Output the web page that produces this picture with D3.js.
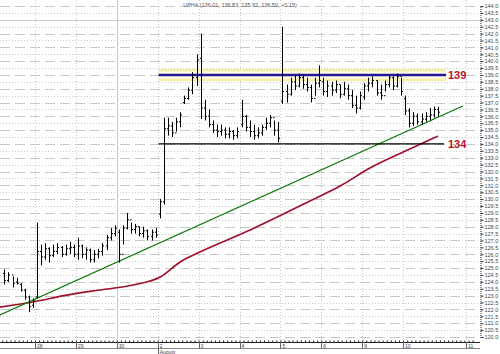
<!DOCTYPE html>
<html>
<head>
<meta charset="utf-8">
<script src="https://cdn.jsdelivr.net/npm/d3@7"></script>
<style>
  body { margin: 0; background: #fff; }
  svg { display: block; font-family: "Liberation Sans", Arial, sans-serif; }
</style>
</head>
<body>
<div id="chart"></div>
<script>
const WIDTH = 500
const HEIGHT = 354

const title = "UPHA (136.01, 136.83, 135.92, 136.50, +0.15)"

// one bar per slot, 10 slots per session, first bar sits in slot -8 (the 27th)
const firstSlot = -8
const highs = [
  124.9, 124.7, 124.4, 124.3, 123.9, 123.5, 123.0, 122.8,
  128.3, 126.7, 126.8, 126.5, 126.7, 126.8, 126.6, 126.7, 126.9, 126.7,
  127.2, 126.7, 126.5, 126.4, 126.3, 126.4, 126.8, 127.4, 127.9, 128.1,
  127.8, 128.1, 129.0, 128.3, 128.2, 128.0, 128.0, 127.8, 127.8, 127.9,
  130.0, 135.9, 135.9, 135.6, 135.9, 136.3, 137.5, 138.1, 139.2, 140.5,
  142.0, 137.2, 136.5, 135.7, 135.4, 135.4, 135.2, 135.2, 135.0, 135.2,
  137.2, 136.1, 135.7, 135.4, 135.2, 135.4, 135.9, 136.1, 135.7, 135.6,
  142.5, 138.3, 138.8, 139.0, 139.1, 139.0, 138.8, 138.3, 138.8, 139.7,
  138.8, 138.6, 138.5, 138.6, 138.3, 138.5, 138.3, 137.9, 137.5, 137.8,
  138.4, 138.8, 138.9, 138.6, 138.3, 138.6, 139.0, 138.9, 139.1, 138.8,
  137.5, 136.6, 136.3, 136.2, 136.2, 136.3, 136.6, 136.7, 136.7
]
const lows = [
  123.8, 124.0, 123.6, 123.8, 123.3, 122.7, 121.8, 122.1,
  122.8, 125.2, 125.6, 125.4, 125.8, 126.0, 125.8, 125.9, 126.0, 125.8,
  125.6, 125.7, 125.6, 125.4, 125.4, 125.7, 125.9, 126.3, 127.0, 127.3,
  125.4, 126.7, 127.8, 127.5, 127.5, 127.3, 127.2, 127.0, 127.0, 127.2,
  128.6, 129.6, 134.6, 134.5, 134.9, 135.2, 136.9, 137.2, 137.6, 138.2,
  135.8, 135.7, 135.2, 134.8, 134.5, 134.6, 134.4, 134.4, 134.3, 134.4,
  135.2, 134.9, 134.5, 134.3, 134.4, 134.6, 135.0, 135.2, 134.6, 134.1,
  136.9, 137.0, 137.5, 137.9, 138.1, 138.0, 137.8, 137.0, 137.5, 138.1,
  137.5, 137.4, 137.5, 137.7, 137.3, 137.5, 137.2, 136.6, 136.2, 136.5,
  137.2, 137.8, 138.1, 137.5, 137.2, 137.8, 138.1, 137.9, 138.1, 137.5,
  136.1, 135.2, 135.3, 135.4, 135.4, 135.6, 135.7, 135.9, 136.0
]
const opens = [
  124.6, 124.1, 124.5, 124.0, 123.8, 123.4, 122.9, 122.3,
  122.9, 126.2, 125.8, 126.4, 125.9, 126.2, 126.5, 126.0, 126.4, 126.5,
  126.0, 126.6, 126.0, 126.3, 125.6, 126.0, 126.2, 126.6, 127.2, 127.5,
  127.6, 126.0, 127.9, 128.5, 127.8, 128.0, 127.5, 127.7, 127.3, 127.6,
  128.9, 129.8, 135.1, 135.3, 134.8, 135.6, 137.0, 137.3, 137.9, 138.8,
  140.2, 136.6, 136.0, 135.4, 135.0, 134.9, 135.0, 134.7, 134.9, 134.6,
  135.4, 136.0, 135.2, 134.9, 134.6, 134.8, 135.2, 135.5, 135.9, 135.0,
  137.1, 137.8, 137.6, 138.5, 138.2, 138.8, 138.3, 138.1, 137.3, 138.4,
  138.5, 137.8, 138.2, 137.9, 138.3, 137.6, 138.0, 137.5, 136.8, 136.6,
  137.4, 138.2, 138.4, 138.6, 137.7, 137.5, 138.3, 138.8, 138.2, 138.9,
  137.3, 136.4, 135.5, 136.0, 135.6, 135.8, 136.0, 136.1, 136.5
]
const closes = [
  124.1, 124.5, 123.9, 123.9, 123.4, 122.9, 122.2, 122.6,
  126.2, 125.8, 126.4, 125.9, 126.2, 126.5, 126.0, 126.4, 126.5, 126.0,
  126.6, 126.0, 126.3, 125.6, 126.0, 126.2, 126.6, 127.2, 127.5, 127.9,
  126.0, 127.9, 128.5, 127.8, 128.0, 127.5, 127.7, 127.3, 127.6, 127.4,
  129.8, 135.1, 135.3, 134.8, 135.6, 136.1, 137.3, 137.9, 138.8, 140.1,
  136.6, 136.0, 135.4, 135.0, 134.9, 135.0, 134.7, 134.9, 134.6, 134.9,
  136.0, 135.2, 134.9, 134.6, 134.8, 135.2, 135.5, 135.9, 135.0, 134.4,
  137.8, 137.6, 138.5, 138.2, 138.8, 138.3, 138.1, 137.3, 138.4, 138.6,
  137.8, 138.2, 137.9, 138.3, 137.6, 138.0, 137.5, 136.8, 136.6, 137.5,
  138.2, 138.4, 138.6, 137.7, 137.5, 138.3, 138.8, 138.2, 138.9, 137.8,
  136.4, 135.5, 136.0, 135.6, 135.8, 136.0, 136.1, 136.5, 136.3
]

// moving average: [slot, value]
const maPoints = [
  [-8.6, 122.17], [-0.5, 122.54], [7.8, 123.04], [15.9, 123.41], [24.0, 123.77],
  [30.6, 124.35], [35.5, 125.44], [40.3, 126.16], [52.6, 127.76], [67.7, 129.93],
  [74.6, 130.95], [81.9, 132.25], [90.0, 133.41], [98.5, 134.57]
]

// trend line and the two horizontal levels
const trendLine = [[-8.56, 121.6], [104.6, 136.75]]
const resistance = { value: 139.0, from: 30.2, to: 100.5, label: "139" }
const support = { value: 134.0, from: 30.2, to: 100.0, label: "134" }

// session labels along the bottom, at their start slot
const dayLabels = ["28", "29", "30", "2", "3", "4", "5", "6", "9", "10", "11"]
const daySlots = [0, 10, 20, 30, 40, 50, 60, 70, 80, 90, 105.4]
const monthLabel = { slot: 30, text: "August" }

const svg = d3.select("#chart")
  .append("svg")
    .attr("width", WIDTH)
    .attr("height", HEIGHT)

const x = d3.scaleLinear().domain([0, 90]).range([35, 403.1])
const y = d3.scaleLinear().domain([120, 144]).range([337, 6])

const PLOT_RIGHT = 480
const PLOT_BOTTOM = 342

// horizontal grid, every 0.5
const gridVals = d3.range(120, 144.01, 0.5)
svg.append("g")
  .selectAll("line")
  .data(gridVals)
  .join("line")
    .attr("x1", 0)
    .attr("x2", PLOT_RIGHT)
    .attr("y1", d => Math.round(y(d)) + 0.5)
    .attr("y2", d => Math.round(y(d)) + 0.5)
    .attr("stroke", "#c8c8c8")
    .attr("stroke-dasharray", d => d === 143 ? null : (d % 1 === 0 ? "10,5" : "1,2"))

// vertical grid at session starts
svg.append("g")
  .selectAll("line")
  .data(daySlots)
  .join("line")
    .attr("x1", d => Math.round(x(d)) + 0.5)
    .attr("x2", d => Math.round(x(d)) + 0.5)
    .attr("y1", 0)
    .attr("y2", PLOT_BOTTOM)
    .attr("stroke", "#c8c8c8")
    .attr("stroke-dasharray", (d, i) => i === 2 ? null : "1,2")

// title
svg.append("text")
  .attr("x", 240)
  .attr("y", 6.5)
  .attr("text-anchor", "middle")
  .attr("font-size", "5.5px")
  .attr("fill", "#555")
  .text(title)

// moving average
const line = d3.line()
  .x(d => x(d[0]))
  .y(d => y(d[1]))
  .curve(d3.curveMonotoneX)

svg.append("path")
  .attr("fill", "none")
  .attr("stroke", "#a0102a")
  .attr("stroke-width", 1.7)
  .attr("d", line(maPoints))

// trend line
svg.append("path")
  .attr("fill", "none")
  .attr("stroke", "#0a7a0a")
  .attr("stroke-width", 1.3)
  .attr("d", d3.line().x(d => x(d[0])).y(d => y(d[1]))(trendLine))

// resistance with its yellow halo
const ry = y(resistance.value)
svg.append("line")
  .attr("x1", x(resistance.from)).attr("x2", x(resistance.to))
  .attr("y1", ry).attr("y2", ry)
  .attr("stroke", "#f4efa4").attr("stroke-width", 12)
svg.append("line")
  .attr("x1", x(resistance.from)).attr("x2", x(resistance.to))
  .attr("y1", ry).attr("y2", ry)
  .attr("stroke", "#fdfbe6").attr("stroke-width", 7)
svg.append("line")
  .attr("x1", x(resistance.from)).attr("x2", x(resistance.to))
  .attr("y1", ry).attr("y2", ry)
  .attr("stroke", "#24189a").attr("stroke-width", 2.5)

const sy = y(support.value)
svg.append("line")
  .attr("x1", x(support.from)).attr("x2", x(support.to))
  .attr("y1", sy).attr("y2", sy)
  .attr("stroke", "#000").attr("stroke-width", 1.4)

// price bars
const bars = highs.map((h, i) => ({
  slot: firstSlot + i, high: h, low: lows[i], open: opens[i], close: closes[i]
}))
const bx = d => Math.round(x(d.slot + 0.5)) + 0.5

const barG = svg.append("g").attr("stroke", "#000").attr("stroke-width", 1)
barG.selectAll("line.hl")
  .data(bars)
  .join("line")
    .attr("class", "hl")
    .attr("x1", bx).attr("x2", bx)
    .attr("y1", d => y(d.high)).attr("y2", d => y(d.low))
barG.selectAll("line.op")
  .data(bars)
  .join("line")
    .attr("class", "op")
    .attr("x1", d => bx(d) - 1.5).attr("x2", bx)
    .attr("y1", d => y(d.open)).attr("y2", d => y(d.open))
barG.selectAll("line.cl")
  .data(bars)
  .join("line")
    .attr("class", "cl")
    .attr("x1", bx).attr("x2", d => bx(d) + 1.5)
    .attr("y1", d => y(d.close)).attr("y2", d => y(d.close))

// level labels
;[resistance, support].forEach(l => {
  svg.append("text")
    .attr("x", 448)
    .attr("y", y(l.value) + 4)
    .attr("font-size", "11px")
    .attr("font-weight", "bold")
    .attr("fill", "#b3112a")
    .attr("stroke", "#fff")
    .attr("stroke-width", 0.6)
    .attr("paint-order", "stroke")
    .text(l.label)
})

// right price axis
const yAxisCall = d3.axisRight(y)
  .tickValues(gridVals)
  .tickSize(3)
  .tickPadding(1)
  .tickFormat(d3.format(".1f"))

const yAxis = svg.append("g")
  .attr("transform", `translate(${PLOT_RIGHT + 0.5}, 0)`)
  .call(yAxisCall)
yAxis.select(".domain").attr("stroke", "#333").attr("stroke-dasharray", "1,1")
yAxis.selectAll(".tick line").attr("stroke", "#333")
yAxis.selectAll("text")
  .attr("font-size", "5.5px")
  .attr("font-family", "Liberation Sans, Arial, sans-serif")
  .attr("fill", "#444")

// bottom time axis
const xAxisCall = d3.axisTop(x)
  .tickValues(d3.range(firstSlot, 108))
  .tickSize(2)
  .tickFormat("")

const xAxis = svg.append("g")
  .attr("transform", `translate(0, ${PLOT_BOTTOM + 0.5})`)
  .call(xAxisCall)
xAxis.select(".domain").attr("stroke", "#222").attr("d", `M0,0H${PLOT_RIGHT}`)
xAxis.selectAll(".tick line").attr("stroke", "#222")

svg.append("line")
  .attr("x1", 0).attr("x2", PLOT_RIGHT)
  .attr("y1", 348.5).attr("y2", 348.5)
  .attr("stroke", "#888")

svg.append("g")
  .selectAll("line")
  .data(daySlots)
  .join("line")
    .attr("x1", d => Math.round(x(d)) + 0.5)
    .attr("x2", d => Math.round(x(d)) + 0.5)
    .attr("y1", PLOT_BOTTOM)
    .attr("y2", 349)
    .attr("stroke", "#666")

svg.append("g")
  .selectAll("text")
  .data(dayLabels)
  .join("text")
    .attr("x", (d, i) => x(daySlots[i]) + 2)
    .attr("y", 347.5)
    .attr("font-size", "5px")
    .attr("fill", "#444")
    .text(d => d)

svg.append("line")
  .attr("x1", Math.round(x(monthLabel.slot)) + 0.5)
  .attr("x2", Math.round(x(monthLabel.slot)) + 0.5)
  .attr("y1", 348).attr("y2", 354)
  .attr("stroke", "#666")
svg.append("text")
  .attr("x", x(monthLabel.slot) + 2)
  .attr("y", 353.5)
  .attr("font-size", "5px")
  .attr("fill", "#444")
  .text(monthLabel.text)
</script>
</body>
</html>
